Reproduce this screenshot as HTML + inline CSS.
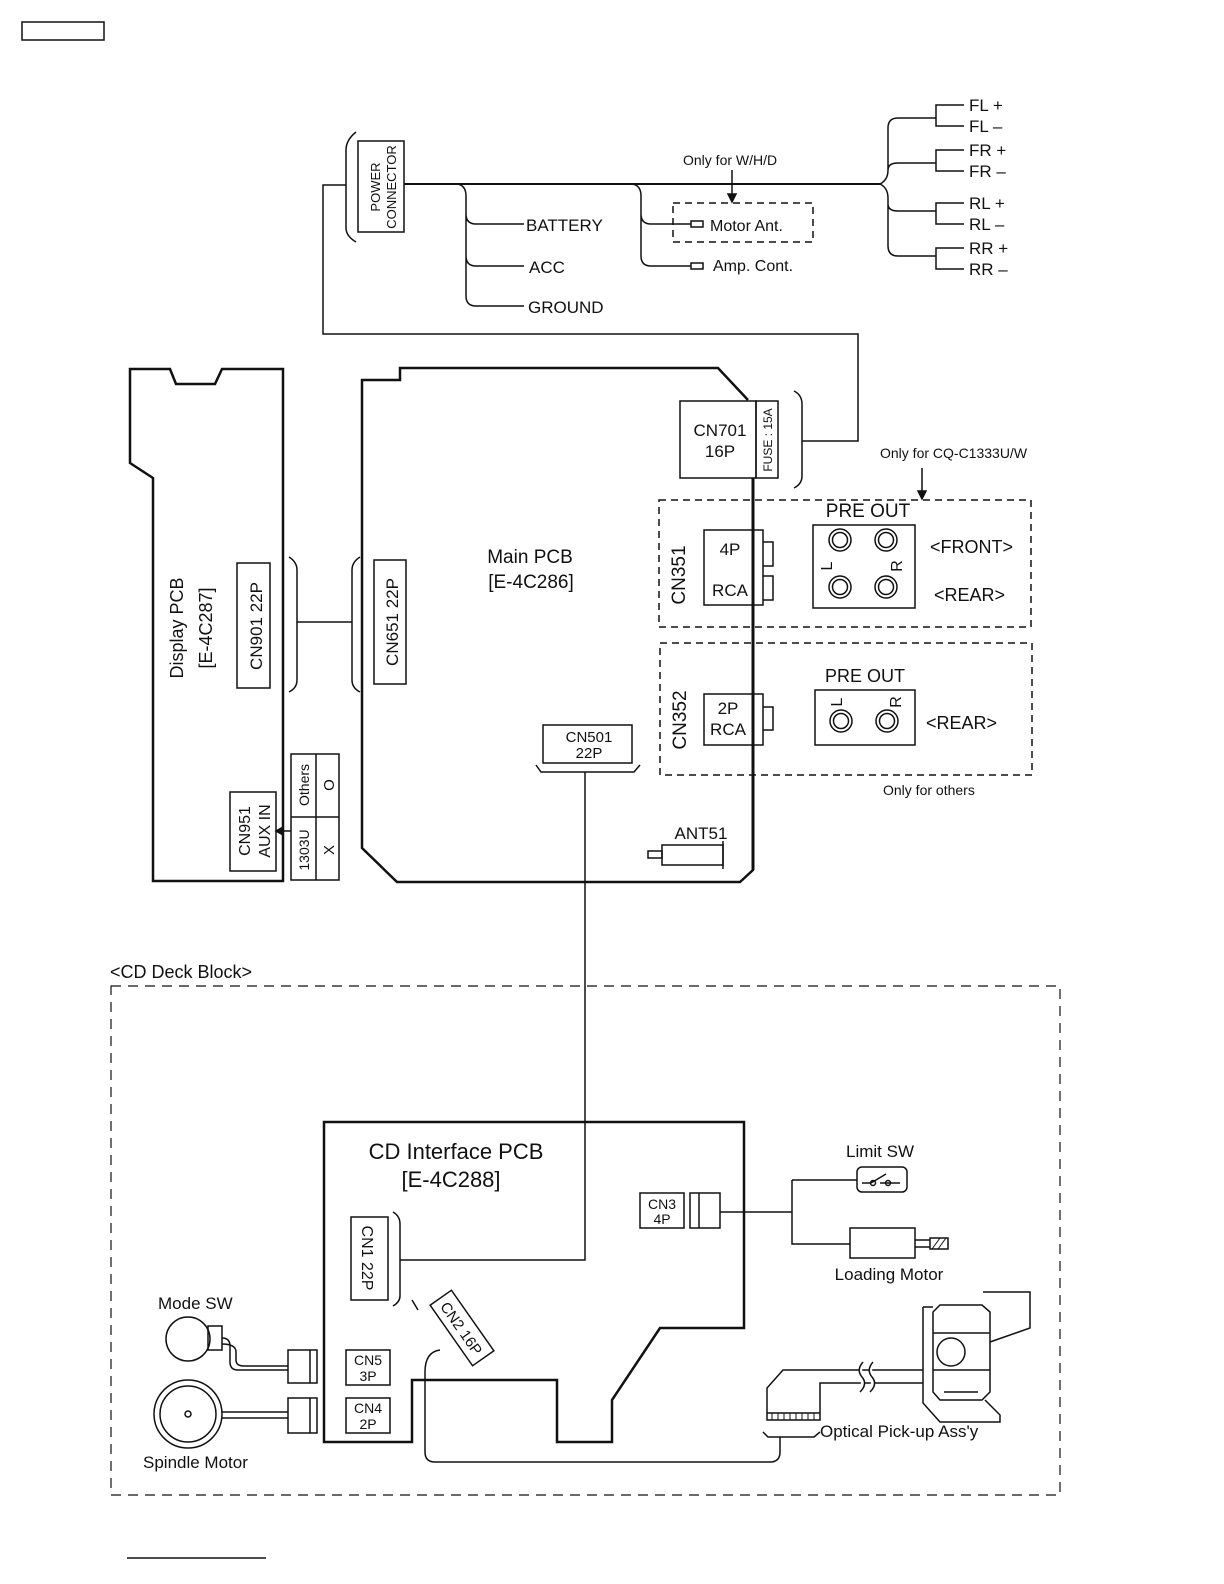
<!DOCTYPE html>
<html><head><meta charset="utf-8"><style>
html,body{margin:0;padding:0;background:#fff}
svg{display:block}
text{font-family:"Liberation Sans",sans-serif;fill:#111}
</style></head><body>
<svg width="1224" height="1584" viewBox="0 0 1224 1584" xmlns="http://www.w3.org/2000/svg" fill="none" stroke="#111" stroke-width="1.5">
<rect x="22" y="22" width="82" height="18"/>
<line x1="127" y1="1558" x2="266" y2="1558"/>

<path d="M356 132 Q346 140 346 150 L346 228 Q346 236 356 242"/>
<rect x="358" y="141" width="46" height="91"/>
<text transform="translate(380,187) rotate(-90)" font-size="13" text-anchor="middle" stroke="none">POWER</text>
<text transform="translate(396,187) rotate(-90)" font-size="13" text-anchor="middle" stroke="none">CONNECTOR</text>
<polyline points="346,185 323,185 323,334 858,334 858,441 802,441"/>
<line x1="404" y1="184" x2="880" y2="184" stroke-width="2"/>
<path d="M458 184 Q466 186 466 196 L466 296 Q466 306 476 306 L524 306 M466 214 Q466 224 476 224 L524 224 M466 256 Q466 266 476 266 L524 266"/>
<text x="526" y="231" font-size="17" stroke="none">BATTERY</text>
<text x="529" y="273" font-size="17" stroke="none">ACC</text>
<text x="528" y="313" font-size="17" stroke="none">GROUND</text>
<path d="M633 184 Q641 186 641 196 L641 256 Q641 266 651 266 L691 266 M641 214 Q641 224 651 224 L691 224"/>
<rect x="691" y="221" width="12" height="6"/><rect x="691" y="263" width="12" height="6"/>
<rect x="673" y="203" width="140" height="39" stroke-dasharray="7,5"/>
<text x="710" y="231" font-size="16" stroke="none">Motor Ant.</text>
<text x="713" y="271" font-size="16" stroke="none">Amp. Cont.</text>
<text x="683" y="165" font-size="14" stroke="none">Only for W/H/D</text>
<line x1="732" y1="170" x2="732" y2="197"/><path d="M728 194 L732 202 L736 194 Z" fill="#111"/>
<path d="M880 184 Q888 180 888 170 L888 128 Q888 118 898 118 L936 118 M888 170 Q888 163 898 163 L936 163 M880 184 Q888 188 888 198 L888 246 Q888 256 898 256 L936 256 M888 204 Q888 211 898 211 L936 211"/>
<path d="M964 105 L936 105 L936 126 L964 126 M964 150 L936 150 L936 171 L964 171 M964 203 L936 203 L936 224 L964 224 M964 248 L936 248 L936 269 L964 269"/>
<g font-size="17" stroke="none">
<text x="969" y="111">FL +</text><text x="969" y="132">FL –</text>
<text x="969" y="156">FR +</text><text x="969" y="177">FR –</text>
<text x="969" y="209">RL +</text><text x="969" y="230">RL –</text>
<text x="969" y="254">RR +</text><text x="969" y="275">RR –</text>
</g>

<polygon points="130,369 170,369 176,384 215,384 222,369 283,369 283,881 153,881 153,478 130,463" stroke-width="2.5"/>
<text transform="translate(183,628) rotate(-90)" font-size="18" text-anchor="middle" stroke="none">Display PCB</text>
<text transform="translate(212,628) rotate(-90)" font-size="18" text-anchor="middle" stroke="none">[E-4C287]</text>
<rect x="237" y="563" width="33" height="125"/>
<text transform="translate(262,626) rotate(-90)" font-size="17" text-anchor="middle" stroke="none">CN901  22P</text>
<path d="M289 557 Q297 562 297 570 L297 680 Q297 688 289 692"/>
<line x1="297" y1="622" x2="352" y2="622"/>
<path d="M360 557 Q352 562 352 570 L352 680 Q352 688 360 692"/>
<rect x="230" y="792" width="46" height="79"/>
<text transform="translate(250,831) rotate(-90)" font-size="16" text-anchor="middle" stroke="none">CN951</text>
<text transform="translate(270,831) rotate(-90)" font-size="16" text-anchor="middle" stroke="none">AUX IN</text>
<rect x="291" y="754" width="48" height="126"/>
<line x1="316" y1="754" x2="316" y2="880"/><line x1="291" y1="817" x2="339" y2="817"/>
<line x1="276" y1="831" x2="291" y2="831"/><path d="M283 827 L276 831 L283 835 Z" fill="#111"/>
<text transform="translate(309,785) rotate(-90)" font-size="14" text-anchor="middle" stroke="none">Others</text>
<text transform="translate(334,785) rotate(-90)" font-size="15" text-anchor="middle" stroke="none">O</text>
<text transform="translate(309,850) rotate(-90)" font-size="14" text-anchor="middle" stroke="none">1303U</text>
<text transform="translate(334,850) rotate(-90)" font-size="15" text-anchor="middle" stroke="none">X</text>

<polyline points="753,478 753,870 740,882 397,882 362,848 362,380 400,380 400,368 718,368 748,400" stroke-width="2.5"/>
<text x="530" y="563" font-size="19" text-anchor="middle" stroke="none">Main PCB</text>
<text x="531" y="588" font-size="19" text-anchor="middle" stroke="none">[E-4C286]</text>
<rect x="680" y="401" width="76" height="77"/>
<rect x="756" y="401" width="22" height="77"/>
<text x="720" y="436" font-size="17" text-anchor="middle" stroke="none">CN701</text>
<text x="720" y="457" font-size="17" text-anchor="middle" stroke="none">16P</text>
<text transform="translate(772,440) rotate(-90)" font-size="12" text-anchor="middle" stroke="none">FUSE : 15A</text>
<path d="M794 391 Q802 395 802 404 L802 476 Q802 484 794 488"/>
<rect x="374" y="560" width="32" height="124"/>
<text transform="translate(398,622) rotate(-90)" font-size="17" text-anchor="middle" stroke="none">CN651  22P</text>
<rect x="543" y="725" width="89" height="38"/>
<text x="589" y="742" font-size="15" text-anchor="middle" stroke="none">CN501</text>
<text x="589" y="758" font-size="15" text-anchor="middle" stroke="none">22P</text>
<path d="M536 765 L541 772 L634 772 L640 765"/>
<polyline points="585,772 585,1260 400,1260"/>
<text x="701" y="839" font-size="17" text-anchor="middle" stroke="none">ANT51</text>
<rect x="662" y="845" width="61" height="20"/><rect x="648" y="851" width="14" height="7"/>
<line x1="723" y1="841" x2="723" y2="869"/>
<line x1="753" y1="478" x2="753" y2="870" stroke-width="3"/>

<rect x="659" y="500" width="372" height="127" stroke-dasharray="7,5"/>
<text transform="translate(685,575) rotate(-90)" font-size="19" text-anchor="middle" stroke="none">CN351</text>
<rect x="704" y="530" width="59" height="75"/>
<text x="730" y="555" font-size="17" text-anchor="middle" stroke="none">4P</text>
<text x="730" y="596" font-size="17" text-anchor="middle" stroke="none">RCA</text>
<path d="M763 542 L773 542 L773 566 L763 566 M763 576 L773 576 L773 600 L763 600"/>
<text x="868" y="517" font-size="19" text-anchor="middle" stroke="none">PRE OUT</text>
<rect x="813" y="525" width="102" height="83"/>
<g><circle cx="840" cy="540" r="11"/><circle cx="840" cy="540" r="7.5"/><circle cx="886" cy="540" r="11"/><circle cx="886" cy="540" r="7.5"/>
<circle cx="840" cy="587" r="11"/><circle cx="840" cy="587" r="7.5"/><circle cx="886" cy="587" r="11"/><circle cx="886" cy="587" r="7.5"/></g>
<text transform="translate(832,566) rotate(-90)" font-size="16" text-anchor="middle" stroke="none">L</text>
<text transform="translate(902,566) rotate(-90)" font-size="16" text-anchor="middle" stroke="none">R</text>
<text x="930" y="553" font-size="18" stroke="none">&lt;FRONT&gt;</text>
<text x="934" y="601" font-size="18" stroke="none">&lt;REAR&gt;</text>
<text x="880" y="458" font-size="14" stroke="none">Only for  CQ-C1333U/W</text>
<line x1="922" y1="468" x2="922" y2="494"/><path d="M918 491 L922 499 L926 491 Z" fill="#111"/>

<rect x="660" y="643" width="372" height="132" stroke-dasharray="7,5"/>
<text transform="translate(686,720) rotate(-90)" font-size="19" text-anchor="middle" stroke="none">CN352</text>
<rect x="704" y="694" width="59" height="51"/>
<text x="728" y="714" font-size="17" text-anchor="middle" stroke="none">2P</text>
<text x="728" y="735" font-size="17" text-anchor="middle" stroke="none">RCA</text>
<path d="M763 707 L773 707 L773 730 L763 730"/>
<text x="865" y="682" font-size="18" text-anchor="middle" stroke="none">PRE OUT</text>
<rect x="815" y="690" width="100" height="55"/>
<circle cx="841" cy="721" r="11"/><circle cx="841" cy="721" r="7.5"/><circle cx="887" cy="721" r="11"/><circle cx="887" cy="721" r="7.5"/>
<text transform="translate(842,702) rotate(-90)" font-size="16" text-anchor="middle" stroke="none">L</text>
<text transform="translate(901,702) rotate(-90)" font-size="16" text-anchor="middle" stroke="none">R</text>
<text x="926" y="729" font-size="18" stroke="none">&lt;REAR&gt;</text>
<text x="883" y="795" font-size="14" stroke="none">Only for others</text>

<text x="110" y="978" font-size="18" stroke="none">&lt;CD Deck  Block&gt;</text>
<rect x="111" y="986" width="949" height="509" stroke-dasharray="10,7" stroke-width="1.2"/>
<polygon points="324,1122 744,1122 744,1328 660,1328 612,1400 612,1442 557,1442 557,1380 412,1380 412,1442 324,1442" stroke-width="2.5"/>
<text x="456" y="1159" font-size="22" text-anchor="middle" stroke="none">CD Interface PCB</text>
<text x="451" y="1187" font-size="22" text-anchor="middle" stroke="none">[E-4C288]</text>
<rect x="351" y="1217" width="37" height="83"/>
<text transform="translate(362,1258) rotate(90)" font-size="16" text-anchor="middle" stroke="none">CN1 22P</text>
<path d="M393 1212 Q400 1216 400 1224 L400 1296 Q400 1302 393 1306"/>
<g transform="translate(462,1328) rotate(55)">
<rect x="-37" y="-13" width="74" height="26" fill="#fff"/>
<text x="0" y="6" font-size="15" text-anchor="middle" stroke="none">CN2 16P</text>
</g>
<path d="M412 1300 L418 1310"/>
<path d="M440 1350 Q425 1352 425 1372 L425 1452 Q425 1462 435 1462 L770 1462 Q780 1462 780 1452 L780 1437"/>
<rect x="346" y="1350" width="44" height="35"/>
<text x="368" y="1365" font-size="14" text-anchor="middle" stroke="none">CN5</text>
<text x="368" y="1381" font-size="14" text-anchor="middle" stroke="none">3P</text>
<rect x="346" y="1398" width="44" height="35"/>
<text x="368" y="1413" font-size="14" text-anchor="middle" stroke="none">CN4</text>
<text x="368" y="1429" font-size="14" text-anchor="middle" stroke="none">2P</text>
<text x="158" y="1309" font-size="17" stroke="none">Mode SW</text>
<circle cx="188" cy="1339" r="22"/>
<rect x="208" y="1326" width="14" height="24"/>
<path d="M222 1338 Q230 1338 230 1346 L230 1362 Q230 1370 238 1370 L288 1370 M222 1344 Q236 1344 236 1352 L236 1360 Q236 1366 244 1366 L288 1366"/>
<rect x="288" y="1350" width="29" height="33"/><line x1="310" y1="1350" x2="310" y2="1383"/>
<circle cx="188" cy="1414" r="34"/><circle cx="188" cy="1414" r="28"/><circle cx="188" cy="1414" r="3"/>
<path d="M222 1412 L288 1412 M222 1418 L288 1418"/>
<rect x="288" y="1398" width="29" height="35"/><line x1="310" y1="1398" x2="310" y2="1433"/>
<text x="143" y="1468" font-size="17" stroke="none">Spindle Motor</text>
<rect x="640" y="1193" width="44" height="35"/>
<text x="662" y="1209" font-size="14" text-anchor="middle" stroke="none">CN3</text>
<text x="662" y="1224" font-size="14" text-anchor="middle" stroke="none">4P</text>
<rect x="690" y="1193" width="30" height="35"/><line x1="699" y1="1193" x2="699" y2="1228"/>
<path d="M720 1212 L792 1212 M792 1180 L792 1244 L850 1244 M792 1180 L857 1180"/>
<text x="880" y="1157" font-size="17" text-anchor="middle" stroke="none">Limit SW</text>
<rect x="857" y="1167" width="50" height="25" rx="5"/>
<path d="M862 1183 L870 1183 M880 1183 L900 1183 M871 1183 L886 1174"/><circle cx="873" cy="1183" r="2.5"/><circle cx="888" cy="1183" r="2.5"/>
<rect x="850" y="1228" width="65" height="30"/>
<path d="M915 1240 L930 1240 M915 1247 L930 1247"/><rect x="930" y="1238" width="18" height="11"/>
<path d="M932 1249 L940 1238 M938 1249 L946 1238" stroke-width="1"/>
<text x="889" y="1280" font-size="17" text-anchor="middle" stroke="none">Loading Motor</text>
<path d="M923 1370 L783 1370 L767 1388 L767 1420 L820 1420 L820 1383 L923 1383"/>
<path d="M767 1413 L820 1413" /><path d="M772 1413 v7 M778 1413 v7 M784 1413 v7 M790 1413 v7 M796 1413 v7 M802 1413 v7 M808 1413 v7 M814 1413 v7" stroke-width="1"/>
<path d="M763 1432 L768 1437 L814 1437 L820 1432"/>
<path d="M863 1362 Q856 1370 862 1377 Q868 1384 860 1392 M873 1362 Q866 1370 872 1377 Q878 1384 870 1392" fill="#fff"/>
<path d="M923 1307 L933 1307 M923 1307 L923 1403 L940 1422 L1000 1422 L1000 1415 L985 1400"/>
<path d="M940 1305 L982 1305 L990 1312 L990 1392 L982 1400 L940 1400 L933 1392 L933 1312 Z"/>
<line x1="933" y1="1333" x2="990" y2="1333"/><line x1="933" y1="1370" x2="990" y2="1370"/>
<line x1="944" y1="1392" x2="978" y2="1392"/>
<circle cx="951" cy="1352" r="14"/>
<path d="M983 1292 L1030 1292 L1030 1328 L990 1342"/>
<text x="820" y="1437" font-size="17" stroke="none">Optical Pick-up Ass'y</text>
</svg>
</body></html>
